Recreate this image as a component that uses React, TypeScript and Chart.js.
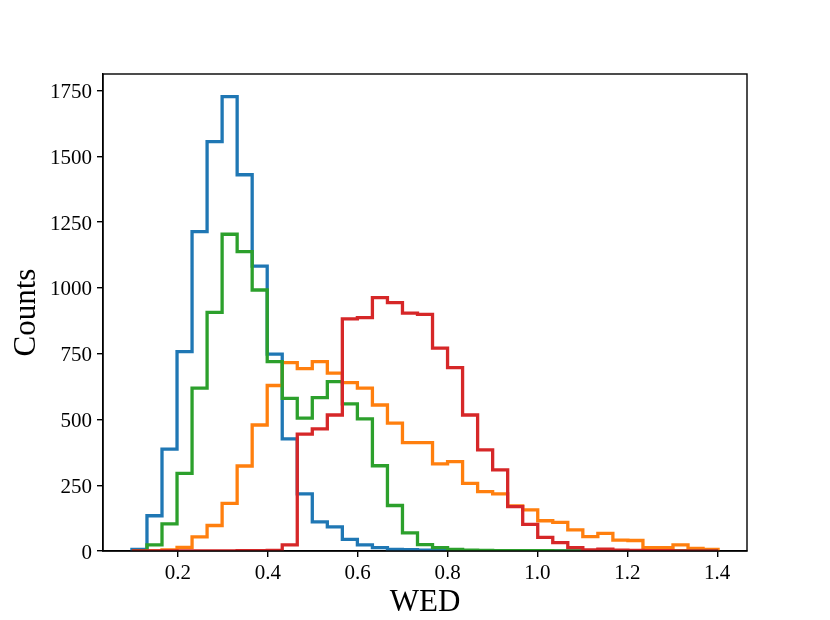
import { useEffect, useRef } from "react";
import { Chart, ChartConfiguration, registerables } from "chart.js";

Chart.register(...registerables);

// shared histogram bins (39 bins)
const binStart = 0.0977;
const binWidth = 0.03344;

const blueCounts = [
  6, 134, 387, 758, 1214, 1556, 1727, 1430, 1083, 748, 426, 217, 111, 92, 44, 23, 13, 6, 5, 3,
  2, 2, 1, 1, 0, 0, 0, 0, 0, 0, 0, 0, 0, 0, 0, 0, 0, 0, 0,
];
const orangeCounts = [
  0, 0, 4, 14, 54, 97, 181, 323, 479, 629, 716, 693, 720, 676, 640, 619, 555, 486, 412, 412,
  331, 340, 257, 226, 217, 171, 156, 115, 109, 80, 55, 67, 41, 40, 13, 13, 23, 10, 6,
];
const greenCounts = [
  0, 23, 103, 295, 619, 907, 1204, 1138, 992, 720, 580, 505, 583, 644, 559, 502, 324, 173, 69, 24,
  13, 6, 3, 2, 1, 1, 1, 1, 0, 0, 0, 0, 0, 0, 0, 0, 0, 0, 0,
];
const redCounts = [
  0, 0, 0, 0, 0, 0, 0, 1, 1, 2, 23, 444, 464, 517, 882, 887, 963, 944, 904, 899,
  771, 697, 517, 384, 308, 169, 101, 52, 32, 13, 4, 7, 3, 2, 1, 1, 0, 0, 0,
];

const xTicks = [0.2, 0.4, 0.6, 0.8, 1.0, 1.2, 1.4];
const yTicks = [0, 250, 500, 750, 1000, 1250, 1500, 1750];

const FONT = "'Liberation Serif', 'DejaVu Serif', serif";

function stepPoints(counts: number[]) {
  const pts = [{ x: binStart, y: 0 }];
  counts.forEach((c, i) => pts.push({ x: binStart + i * binWidth, y: c }));
  pts.push({ x: binStart + counts.length * binWidth, y: 0 });
  return pts;
}

function series(counts: number[], color: string, order: number) {
  return {
    data: stepPoints(counts),
    borderColor: color,
    backgroundColor: color,
    borderWidth: 3.3,
    borderJoinStyle: "miter" as const,
    stepped: true,
    pointRadius: 0,
    fill: false,
    order,
  };
}

const framePlugin = {
  id: "frame",
  afterDraw(chart: Chart) {
    const { ctx, chartArea } = chart;
    ctx.save();
    ctx.strokeStyle = "#000";
    ctx.lineWidth = 1.4;
    ctx.strokeRect(chartArea.left, chartArea.top, chartArea.right - chartArea.left, chartArea.bottom - chartArea.top);
    ctx.restore();
  },
};

export default function App() {
  const chartRef = useRef<HTMLCanvasElement>(null);
  const chartInstance = useRef<Chart | null>(null);

  useEffect(() => {
    if (!chartRef.current) return;
    if (chartInstance.current) chartInstance.current.destroy();

    const config: ChartConfiguration = {
      type: "line",
      data: {
        datasets: [
          series(blueCounts, "#1f77b4", 3),
          series(orangeCounts, "#ff7f0e", 2),
          series(greenCounts, "#2ca02c", 1),
          series(redCounts, "#d62728", 0),
        ] as any,
      },
      options: {
        animation: false,
        responsive: true,
        maintainAspectRatio: false,
        layout: { padding: { left: 0, top: 74, right: 83, bottom: 0 } },
        plugins: {
          legend: { display: false },
          tooltip: { enabled: false },
        },
        scales: {
          x: {
            type: "linear",
            min: 0.0333,
            max: 1.4662,
            afterFit: (scale) => {
              scale.height = 69;
            },
            afterBuildTicks: (scale) => {
              scale.ticks = xTicks.map((v) => ({ value: v }));
            },
            grid: { drawOnChartArea: false, drawTicks: true, tickLength: 6, color: "#000", lineWidth: 1.4 },
            border: { display: true, color: "#000", width: 1.4 },
            ticks: {
              color: "#000",
              padding: 4,
              maxRotation: 0,
              font: { family: FONT, size: 21 },
              callback: (v) => Number(v).toFixed(1),
            },
            title: {
              display: true,
              text: "WED",
              color: "#000",
              font: { family: FONT, size: 31 },
              padding: { top: 0, bottom: -1 },
            },
          },
          y: {
            type: "linear",
            min: 0,
            max: 1813,
            afterFit: (scale) => {
              scale.width = 103;
            },
            afterBuildTicks: (scale) => {
              scale.ticks = yTicks.map((v) => ({ value: v }));
            },
            grid: { drawOnChartArea: false, drawTicks: true, tickLength: 6, color: "#000", lineWidth: 1.4 },
            border: { display: true, color: "#000", width: 1.4 },
            ticks: {
              color: "#000",
              padding: 5,
              labelOffset: 2,
              font: { family: FONT, size: 21 },
              callback: (v) => String(v),
            },
            title: {
              display: true,
              text: "Counts",
              color: "#000",
              font: { family: FONT, size: 31 },
              padding: { top: 8, bottom: 0 },
            },
          },
        },
      },
      plugins: [framePlugin],
    };

    chartInstance.current = new Chart(chartRef.current, config);

    return () => {
      if (chartInstance.current) {
        chartInstance.current.destroy();
        chartInstance.current = null;
      }
    };
  }, []);

  return (
    <div style={{ position: "fixed", left: 0, top: 0, width: 830, height: 620, background: "#fff" }}>
      <canvas ref={chartRef} />
    </div>
  );
}
